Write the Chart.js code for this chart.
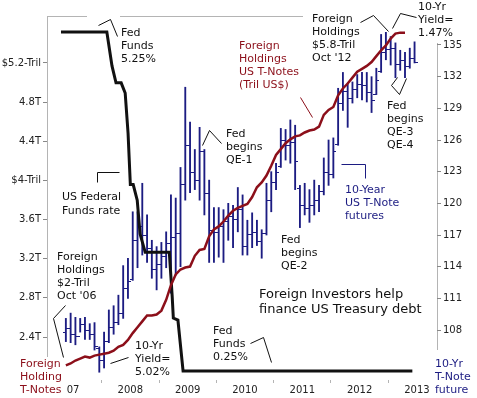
<!DOCTYPE html>
<html>
<head>
<meta charset="utf-8">
<script src="https://cdn.jsdelivr.net/npm/chart.js@4"></script>
<style>
  html, body { margin: 0; background: #fff; }
  canvas { display: block; }
</style>
</head>
<body>
<canvas id="chart" width="477" height="398"></canvas>
<script>
// 10-yr T-note futures (monthly OHLC, Nov 2006 .. Dec 2012), foreign holdings, fed funds
var tnHigh = [109.1,109.6,109.2,109.1,109.2,108.6,108.7,106.4,107.8,109.9,110.3,111.3,114.1,114.8,
  119.2,119.2,121.9,118.9,116.5,115.9,116.3,117.3,120.8,120.5,123.4,131.0,
  127.7,125.1,127.2,125.1,122.2,119.6,119.6,119.4,120.0,119.8,121.5,120.8,
  118.4,119.1,118.4,117.5,121.9,123.0,123.8,127.1,127.0,127.9,127.4,121.7,
  121.9,121.3,122.2,121.7,124.3,126.0,126.2,130.9,132.4,131.4,131.5,132.2,
  132.4,132.4,132.0,132.8,136.0,136.2,135.8,135.2,134.5,134.3,134.7,135.3];
var tnLow = [106.9,106.8,106.6,107.8,107.1,107.1,106.1,104.0,104.4,106.8,107.6,108.5,109.1,111.0,
  112.7,113.9,115.1,114.4,112.9,111.8,112.9,113.9,111.5,113.2,114.0,120.3,
  121.0,121.3,120.3,118.9,114.4,114.4,114.9,114.4,116.5,115.8,117.3,115.1,
  115.1,115.8,116.0,114.8,117.0,119.2,121.3,123.4,124.1,123.8,121.3,117.7,
  118.9,118.2,118.9,119.2,120.8,121.7,122.4,125.5,128.8,127.2,129.5,130.0,
  129.8,129.6,128.6,130.3,132.4,133.6,133.1,131.9,132.6,131.9,132.8,133.3];
var tnOpen = [107.8,108.2,107.6,107.4,108.6,108.0,107.6,106.3,105.2,107.0,108.3,108.8,109.6,112.0,
  112.8,116.5,117.9,117.0,115.8,113.8,114.3,115.0,116.2,116.8,117.2,121.8,
  125.5,123.0,122.2,125.0,121.0,117.5,117.3,117.9,118.3,118.8,118.5,119.5,
  116.0,117.1,117.3,116.4,117.2,120.3,122.0,123.5,126.0,125.5,125.8,121.5,
  119.8,119.6,119.8,120.3,121.2,123.0,122.8,125.6,129.5,130.6,130.0,130.8,
  131.3,131.2,130.5,130.4,132.5,134.3,134.6,134.7,133.2,133.6,133.0,133.8];
var tnClose = [108.2,107.6,107.4,108.6,108.0,107.6,106.5,105.2,107.0,108.3,108.8,109.6,112.0,112.6,
  116.5,117.9,117.0,115.8,113.8,114.3,115.0,116.2,116.8,117.2,121.8,125.5,
  123.0,122.2,125.0,121.0,117.5,117.3,117.9,118.3,118.8,118.5,119.5,116.0,
  117.1,117.3,116.4,117.2,120.3,122.0,123.0,126.0,125.5,125.8,124.0,119.8,
  119.6,119.8,120.3,121.2,123.0,122.8,125.0,129.5,130.6,130.0,130.8,131.3,
  131.2,130.5,129.8,131.7,134.3,134.6,134.7,133.2,133.6,133.0,133.8,133.4];

// foreign holdings of US T-notes, trillions US$ (Nov 2006 .. Oct 2012)
var holdings = [2.11,2.13,2.16,2.18,2.20,2.19,2.21,2.22,2.23,2.24,2.26,2.30,2.32,2.37,
  2.44,2.50,2.56,2.62,2.62,2.63,2.67,2.78,2.93,3.04,3.09,3.11,
  3.12,3.23,3.29,3.30,3.43,3.50,3.53,3.58,3.64,3.69,3.72,3.74,
  3.76,3.83,3.93,3.98,4.05,4.15,4.26,4.32,4.38,4.42,4.45,4.46,
  4.49,4.51,4.52,4.55,4.67,4.72,4.75,4.87,4.94,4.99,5.05,5.11,
  5.14,5.17,5.21,5.27,5.33,5.38,5.45,5.50,5.51,5.51];

// US fed funds rate, %
var fedDates = [2006.79,2007.59,2007.68,2007.75,2007.84,2007.91,2007.96,2008.00,2008.05,2008.12,
  2008.17,2008.26,2008.68,2008.73,2008.75,2008.83,2008.92,2012.92];
var fedRate = [5.25,5.25,4.75,4.5,4.5,4.35,3.76,3.0,3.0,2.77,2.27,2.0,2.0,1.35,1.03,1.0,0.25,0.25];

var xTicks = [2007,2008,2009,2010,2011,2012,2013];
var xTickLabels = ['07','2008','2009','2010','2011','2012','2013'];
var leftTicks = [2.4,2.8,3.2,3.6,4.0,4.4,4.8,5.2];
var leftTickLabels = ['2.4T','2.8T','3.2T','3.6T','$4-Tril','4.4T','4.8T','$5.2-Tril'];
var rightTicks = [108,111,114,117,120,123,126,129,132,135];

var BLACK = '#111111';
var RED   = '#8c0f1a';
var BLUE  = '#1c1c82';
var AXIS  = '#b4b4b4';
var FONT  = "'DejaVu Sans', Verdana, sans-serif";

function monthPos(i) { return 2006 + (10 + i + 0.5) / 12; }   // i=0 -> Nov 2006

var barData = tnHigh.map(function (h, i) { return { x: monthPos(i), y: [tnLow[i], h] }; });
var holdData = holdings.map(function (v, i) { return { x: monthPos(i), y: v }; });
var fedData = fedRate.map(function (v, i) { return { x: fedDates[i], y: v }; });

var notes = [
  { lines: ['Fed','Funds','5.25%'], x: 121, y: 33 },
  { lines: ['US Federal','Funds rate'], x: 62, y: 197, lh: 14 },
  { lines: ['Foreign','Holdings','$2-Tril',"Oct '06"], x: 57, y: 257 },
  { lines: ['Foreign','Holding','T-Notes'], x: 20, y: 364, color: RED },
  { lines: ['10-Yr','Yield=','5.02%'], x: 135, y: 346 },
  { lines: ['Fed','begins','QE-1'], x: 226, y: 134 },
  { lines: ['Foreign','Holdings','US T-Notes','(Tril US$)'], x: 239, y: 46, color: RED },
  { lines: ['Foreign','Holdings','$5.8-Tril',"Oct '12"], x: 312, y: 19 },
  { lines: ['10-Yr','Yield=','1.47%'], x: 418, y: 7 },
  { lines: ['Fed','begins','QE-3','QE-4'], x: 387, y: 106 },
  { lines: ['10-Year','US T-Note','futures'], x: 345, y: 190, color: BLUE },
  { lines: ['Fed','begins','QE-2'], x: 281, y: 240 },
  { lines: ['Foreign Investors help','finance US Treasury debt'], x: 259, y: 295, size: 13 },
  { lines: ['Fed','Funds','0.25%'], x: 213, y: 331 },
  { lines: ['10-Yr','T-Note','future'], x: 435, y: 364, color: BLUE }
];
var pointers = [
  { pts: [[98,25],[110,19],[117,36]] },
  { pts: [[97,182],[97,172],[119,172]] },
  { pts: [[65,305],[53,318],[63,357]] },
  { pts: [[110,363],[128,357]] },
  { pts: [[202,145],[209,130],[221,143]] },
  { pts: [[300,97],[312,117]], color: RED },
  { pts: [[360,22],[373,15],[388,31]] },
  { pts: [[392,28],[400,13],[416,17]] },
  { pts: [[397,77],[391,85],[399,94],[406,78]] },
  { pts: [[341,164],[365,164],[365,178]], color: BLUE },
  { pts: [[250,343],[263,337],[271,362]] }
];

var ohlcTicks = {
  id: 'ohlcTicks',
  beforeDatasetsDraw: function (chart) {
    var ctx = chart.ctx, yR = chart.scales.yR;
    var meta = chart.getDatasetMeta(2);
    ctx.save();
    ctx.strokeStyle = BLUE;
    ctx.lineWidth = 1;
    meta.data.forEach(function (bar, i) {
      var x = Math.round(bar.x);
      var yo = Math.round(yR.getPixelForValue(tnOpen[i])) + 0.5;
      var yc = Math.round(yR.getPixelForValue(tnClose[i])) + 0.5;
      ctx.beginPath();
      ctx.moveTo(x - 3, yo); ctx.lineTo(x, yo);
      ctx.moveTo(x, yc); ctx.lineTo(x + 3, yc);
      ctx.stroke();
    });
    ctx.restore();
  }
};

var decor = {
  id: 'decor',
  beforeDraw: function (chart) {
    var ctx = chart.ctx;
    ctx.save();
    ctx.fillStyle = '#fff';
    ctx.fillRect(0, 0, chart.width, chart.height);
    ctx.strokeStyle = AXIS;
    ctx.lineWidth = 1;
    ctx.beginPath();
    ctx.moveTo(47.5, 16); ctx.lineTo(47.5, 357);
    ctx.moveTo(437.5, 43); ctx.lineTo(437.5, 350);
    ctx.moveTo(47, 16.5); ctx.lineTo(87, 16.5);
    ctx.moveTo(120, 16.5); ctx.lineTo(303, 16.5);
    ctx.stroke();
    ctx.restore();
  },
  afterDraw: function (chart) {
    var ctx = chart.ctx;
    ctx.save();
    pointers.forEach(function (p) {
      ctx.strokeStyle = p.color || BLACK;
      ctx.lineWidth = 1;
      ctx.beginPath();
      p.pts.forEach(function (pt, k) {
        if (k === 0) ctx.moveTo(pt[0] + 0.5, pt[1] + 0.5);
        else ctx.lineTo(pt[0] + 0.5, pt[1] + 0.5);
      });
      ctx.stroke();
    });
    ctx.textBaseline = 'middle';
    ctx.textAlign = 'left';
    notes.forEach(function (n) {
      var size = n.size || 11;
      var lh = n.lh || (size + 2);
      ctx.font = size + 'px ' + FONT;
      ctx.fillStyle = n.color || BLACK;
      n.lines.forEach(function (t, k) { ctx.fillText(t, n.x, n.y + k * lh); });
    });
    ctx.restore();
  }
};

var tickFont = { family: FONT, size: 10 };

new Chart(document.getElementById('chart'), {
  type: 'bar',
  data: {
    datasets: [
      {
        type: 'line', label: 'Foreign holdings', data: holdData, yAxisID: 'yL',
        borderColor: RED, borderWidth: 2.5, pointRadius: 0, tension: 0, fill: false
      },
      {
        type: 'line', label: 'Fed funds', data: fedData, yAxisID: 'yF',
        borderColor: BLACK, borderWidth: 3, pointRadius: 0, tension: 0, fill: false
      },
      {
        type: 'bar', label: '10-Yr T-Note futures', data: barData, yAxisID: 'yR',
        backgroundColor: BLUE, borderWidth: 0, barThickness: 1.2
      }
    ]
  },
  options: {
    responsive: false,
    animation: false,
    layout: { padding: { top: 16 } },
    plugins: { legend: { display: false }, tooltip: { enabled: false } },
    scales: {
      x: {
        type: 'linear', min: 2006.546, max: 2013.35, offset: false,
        afterBuildTicks: function (s) { s.ticks = xTicks.map(function (v) { return { value: v }; }); },
        afterFit: function (s) { s.height = 18; },
        ticks: {
          font: tickFont, color: '#222', padding: 1, maxRotation: 0, autoSkip: false,
          callback: function (v, i) { return xTickLabels[i]; }
        },
        grid: { drawOnChartArea: false, tickLength: 3, color: AXIS },
        border: { display: false }
      },
      yL: {
        type: 'linear', position: 'left', min: 1.961, max: 5.680,
        afterBuildTicks: function (s) { s.ticks = leftTicks.map(function (v) { return { value: v }; }); },
        afterFit: function (s) { s.width = 47; },
        ticks: {
          font: tickFont, color: '#222', padding: 2,
          callback: function (v, i) { return leftTickLabels[i]; }
        },
        grid: { drawOnChartArea: false, tickLength: 4, color: '#888' },
        border: { display: false }
      },
      yR: {
        type: 'linear', position: 'right', min: 103.264, max: 137.747,
        afterBuildTicks: function (s) { s.ticks = rightTicks.map(function (v) { return { value: v }; }); },
        afterFit: function (s) { s.width = 40; },
        ticks: { font: tickFont, color: '#222', padding: 2 },
        grid: { drawOnChartArea: false, tickLength: 4, color: '#888' },
        border: { display: false }
      },
      yF: { type: 'linear', display: false, min: 0.117, max: 5.486 }
    }
  },
  plugins: [ohlcTicks, decor]
});
</script>
</body>
</html>
